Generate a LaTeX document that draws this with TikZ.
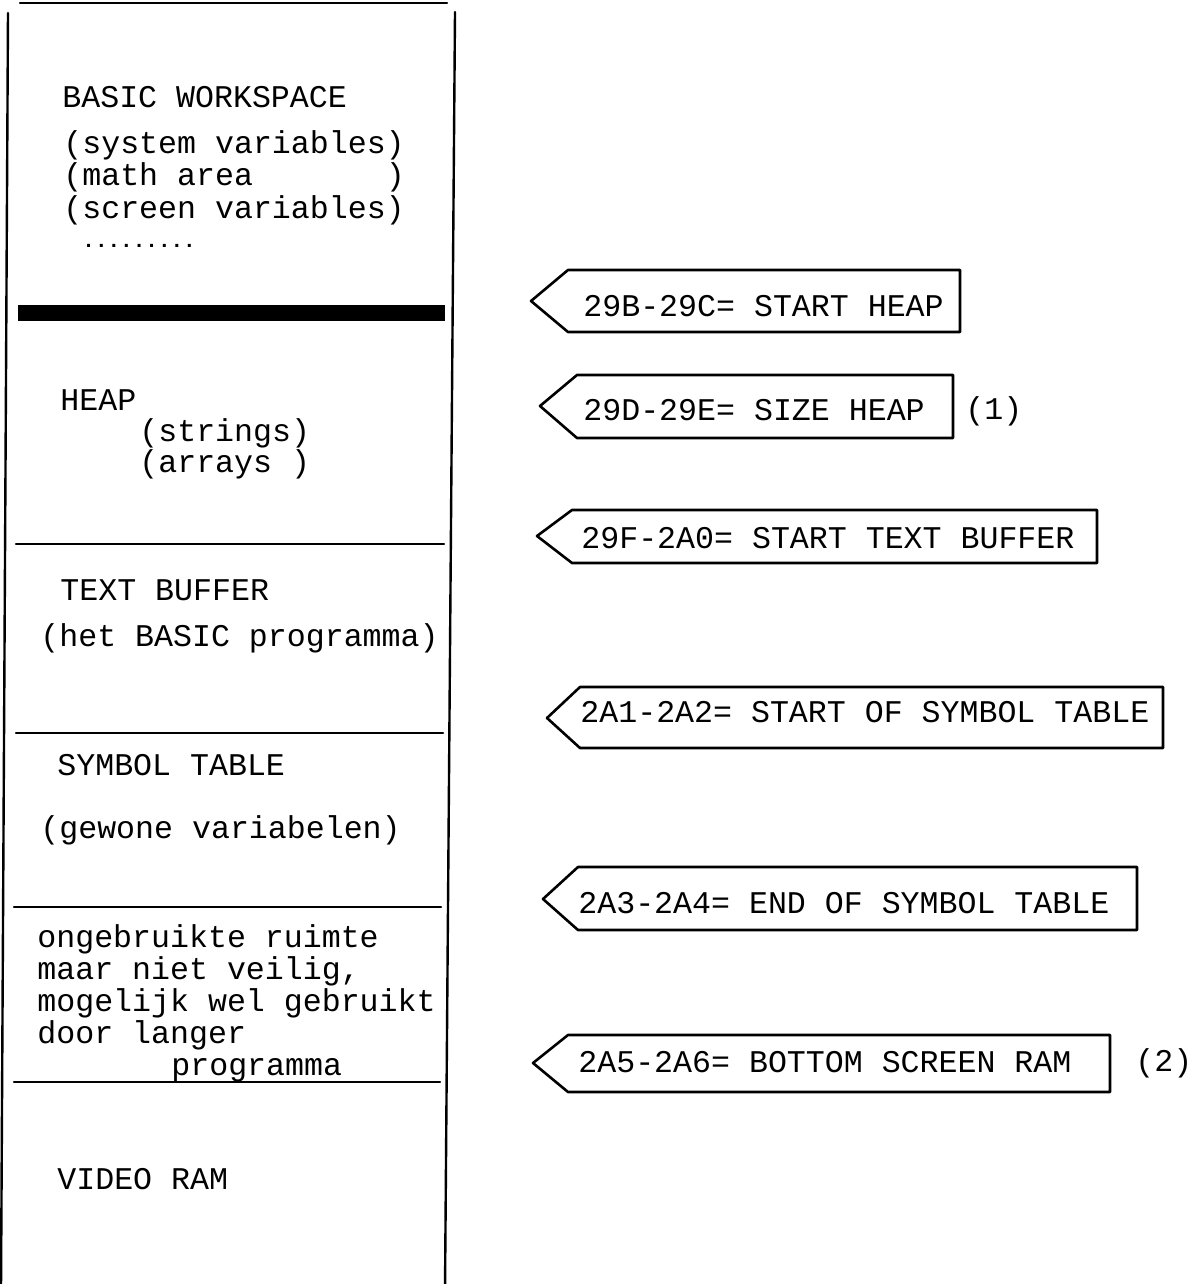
\documentclass[tikz,border=0pt]{standalone}
\usepackage{fontspec}
\setmonofont{Liberation Mono}
\tikzset{
  mem text/.style={
    anchor=mid west,
    inner sep=0pt,
    font=\ttfamily\fontsize{15.8}{16}\selectfont,
  },
  mem dots/.style={
    anchor=mid west,
    inner sep=0pt,
    font=\ttfamily\bfseries\fontsize{10.5}{10}\selectfont,
  },
  mem line/.style={line width=1.2pt, line cap=round},
  mem band/.style={line width=1.8pt},
  mem ptr/.style={line width=1.3pt, line join=round},
}

\begin{document}
\begin{tikzpicture}[x=0.5pt, y=-0.5pt]
  \useasboundingbox (0,0) rectangle (1191,1284);

  % memory column
  \draw[mem line] (20,3) -- (447,3);
  \draw[mem line] (8,13) -- (1,1290);
  \draw[mem line] (455,12) -- (445,1290);
  \foreach \y in {307,311,315,319}
    \draw[mem band] (18,\y) -- (445,\y);
  \draw[mem line] (16,544) -- (444,544);
  \draw[mem line] (16,733) -- (443,733);
  \draw[mem line] (14,907) -- (441,907);
  \draw[mem line] (14,1082) -- (440,1082);

  \node[mem text] (ws) at (62,103) {BASIC WORKSPACE};
  \node[mem text] (wssys) at (63,149) {(system variables)};
  \node[mem text] (wsmath) at (63,181) {(math area\phantom{xxxxxxx})};
  \node[mem text] (wsscr) at (63,214) {(screen variables)};
  \node[mem dots] (wsdots) at (82,243) {.........};

  \node[mem text] (heap) at (60,406) {HEAP};
  \node[mem text] (heapstr) at (139,437) {(strings)};
  \node[mem text] (heaparr) at (139,468) {(arrays )};

  \node[mem text] (txtbuf) at (60,596) {TEXT BUFFER};
  \node[mem text] (txtprog) at (40,642) {(het BASIC programma)};

  \node[mem text] (symtab) at (57,771) {SYMBOL TABLE};
  \node[mem text] (symvars) at (40,834) {(gewone variabelen)};

  \node[mem text] (free1) at (37,943) {ongebruikte ruimte};
  \node[mem text] (free2) at (37,975) {maar niet veilig,};
  \node[mem text] (free3) at (37,1007) {mogelijk wel gebruikt};
  \node[mem text] (free4) at (37,1039) {door langer};
  \node[mem text] (free5) at (171,1071) {programma};

  \node[mem text] (vram) at (57,1185) {VIDEO RAM};

  % pointers
  \draw[mem ptr] (531,301) -- (568,270) -- (960,270) -- (960,332) -- (568,332) -- cycle;
  \node[mem text] (ptrheap) at (583,312) {29B-29C= START HEAP};

  \draw[mem ptr] (540,406) -- (577,375) -- (953,375) -- (953,438) -- (577,438) -- cycle;
  \node[mem text] (ptrsize) at (583,416) {29D-29E= SIZE HEAP};
  \node[mem text] (note1) at (965,415) {(1)};

  \draw[mem ptr] (537,536) -- (572,510) -- (1097,510) -- (1097,563) -- (572,563) -- cycle;
  \node[mem text] (ptrtext) at (581,544) {29F-2A0= START TEXT BUFFER};

  \draw[mem ptr] (547,718) -- (580,687) -- (1163,687) -- (1163,748) -- (580,748) -- cycle;
  \node[mem text] (ptrsym) at (580,718) {2A1-2A2= START OF SYMBOL TABLE};

  \draw[mem ptr] (543,899) -- (578,867) -- (1137,867) -- (1137,930) -- (578,930) -- cycle;
  \node[mem text] (ptrend) at (578,909) {2A3-2A4= END OF SYMBOL TABLE};

  \draw[mem ptr] (533,1063) -- (568,1035) -- (1110,1035) -- (1110,1092) -- (568,1092) -- cycle;
  \node[mem text] (ptrvram) at (578,1068) {2A5-2A6= BOTTOM SCREEN RAM};
  \node[mem text] (note2) at (1135,1067) {(2)};
\end{tikzpicture}
\end{document}
